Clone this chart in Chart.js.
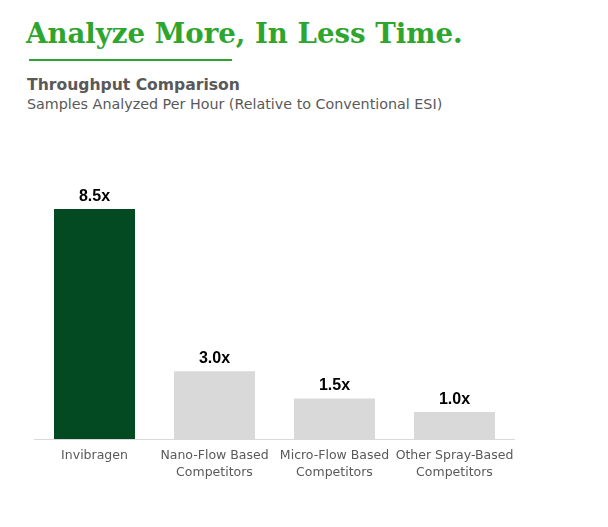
<!DOCTYPE html>
<html><head><meta charset="utf-8">
<script src="https://cdn.jsdelivr.net/npm/chart.js@4"></script>
<style>
html,body{margin:0;padding:0;background:#fff;width:608px;height:527px;overflow:hidden;position:relative}
#t{position:absolute;left:26px;top:14px;font-family:"DejaVu Serif",serif;font-weight:bold;font-size:27.6px;color:#2ea52e;white-space:nowrap;line-height:40px}
#u{position:absolute;left:29px;top:59px;width:203px;height:2px;background:#2ea52e}
#s1{position:absolute;left:27px;top:74px;font-family:"DejaVu Sans",sans-serif;font-weight:bold;font-size:15.6px;color:#595959;white-space:nowrap;line-height:22px}
#s2{position:absolute;left:27px;top:94px;font-family:"DejaVu Sans",sans-serif;font-size:14.3px;color:#595959;white-space:nowrap;line-height:20px}
#c{position:absolute;left:0;top:0}
</style></head>
<body>
<div id="t">Analyze More, In Less Time.</div>
<div id="u"></div>
<div id="s1">Throughput Comparison</div>
<div id="s2">Samples Analyzed Per Hour (Relative to Conventional ESI)</div>
<canvas id="c" width="608" height="527"></canvas>
<script>
const categories = [["Invibragen"], ["Nano-Flow Based", "Competitors"], ["Micro-Flow Based", "Competitors"], ["Other Spray-Based", "Competitors"]];
const values = [8.5, 2.5, 1.5, 1.0];
const valueLabels = ["8.5x", "3.0x", "1.5x", "1.0x"];
const barColors = ["#034a23", "#d9d9d9", "#d9d9d9", "#d9d9d9"];

const labelPlugin = {
  id: "valueLabels",
  afterDatasetsDraw(chart) {
    const ctx = chart.ctx;
    const meta = chart.getDatasetMeta(0);
    ctx.save();
    ctx.font = "bold 16px 'Liberation Sans', sans-serif";
    ctx.fillStyle = "#000";
    ctx.textAlign = "center";
    ctx.textBaseline = "alphabetic";
    meta.data.forEach((bar, i) => {
      ctx.fillText(valueLabels[i], bar.x, bar.y - 8);
    });
    ctx.restore();
  }
};

new Chart(document.getElementById("c"), {
  type: "bar",
  data: {
    labels: categories,
    datasets: [{ data: values, backgroundColor: barColors, categoryPercentage: 1, barPercentage: 0.675 }]
  },
  options: {
    responsive: false,
    animation: false,
    devicePixelRatio: 1,
    layout: { padding: { left: 34.5, right: 93.5, top: 168.4, bottom: 0 } },
    plugins: { legend: { display: false }, tooltip: { enabled: false } },
    scales: {
      x: {
        grid: { display: false, drawTicks: false },
        border: { display: true, color: "#d9d9d9", width: 1 },
        ticks: { color: "#595959", font: { family: "'DejaVu Sans', sans-serif", size: 12.5, lineHeight: 1.3 }, padding: 9, maxRotation: 0, autoSkip: false },
        afterFit(s) { s.height = 88; }
      },
      y: { display: false, min: 0, max: 10 }
    }
  },
  plugins: [labelPlugin]
});
</script>
</body></html>
